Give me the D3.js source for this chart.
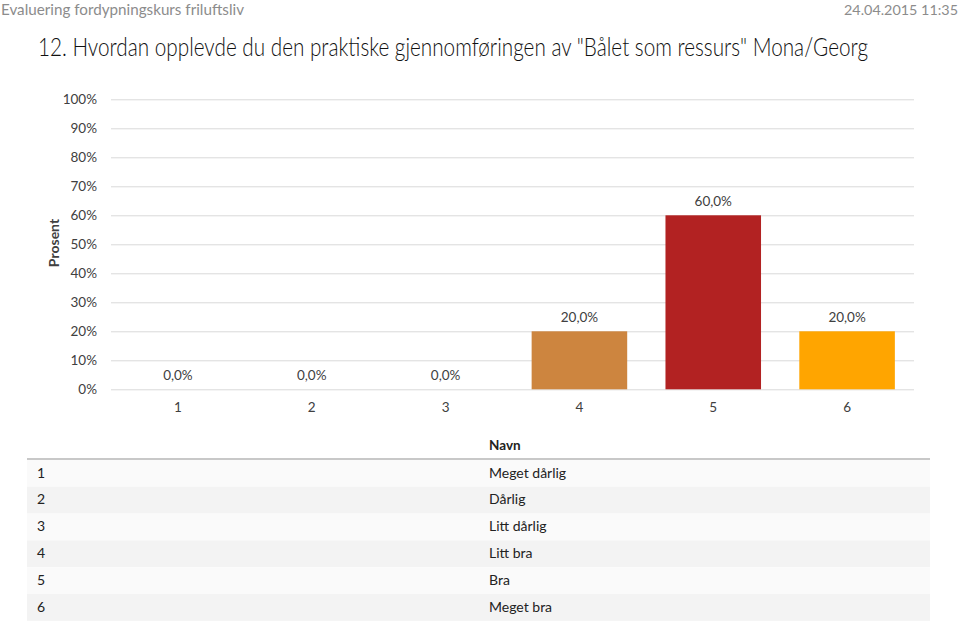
<!DOCTYPE html>
<html><head><meta charset="utf-8">
<script src="https://cdn.jsdelivr.net/npm/d3@7"></script>
<style>
body{margin:0;background:#fff;}
svg{display:block;font-family:Lato,"Open Sans",sans-serif;}
</style></head>
<body><svg id="c" width="960" height="622"></svg>
<script>
const categories = ["1","2","3","4","5","6"];
const values = [0, 0, 0, 20, 60, 20];
const barColors = ["#cd853f","#cd853f","#cd853f","#cd853f","#b22222","#ffa500"];
const yTicks = [0,10,20,30,40,50,60,70,80,90,100];
const tableNames = ["Meget dårlig","Dårlig","Litt dårlig","Litt bra","Bra","Meget bra"];
const headerLeft = "Evaluering fordypningskurs friluftsliv";
const headerRight = "24.04.2015 11:35";
const title = "12. Hvordan opplevde du den praktiske gjennomføringen av \"Bålet som ressurs\" Mona/Georg";

const svg = d3.select("#c");
const fmt = v => v.toFixed(1).replace(".", ",") + "%";
const F = "Lato,'Open Sans',sans-serif";

svg.append("text").attr("x",1).attr("y",15).attr("font-size",16).attr("fill","#8c8c8c")
  .attr("textLength",243).attr("lengthAdjust","spacingAndGlyphs").text(headerLeft);
svg.append("text").attr("x",958).attr("y",15).attr("text-anchor","end").attr("font-size",14).attr("fill","#8c8c8c")
  .attr("textLength",114).attr("lengthAdjust","spacingAndGlyphs").text(headerRight);
svg.append("text").attr("x",38).attr("y",56).attr("font-size",25).attr("font-weight",300).attr("fill","#111")
  .attr("textLength",830).attr("lengthAdjust","spacingAndGlyphs").text(title);

const x = d3.scaleBand().domain(categories).range([111,914]).paddingInner(0.286).paddingOuter(0.143);
const y = d3.scaleLinear().domain([0,100]).range([389.3,99.3]);

const yAxis = svg.append("g").attr("transform","translate(111,0)")
  .call(d3.axisLeft(y).tickValues(yTicks).tickFormat(d=>d+"%").tickSize(-803).tickPadding(14));
yAxis.select(".domain").remove();
yAxis.selectAll("line").attr("stroke","#d9d9d9").attr("stroke-width",1);
yAxis.selectAll("text").attr("font-size",13.5).attr("fill","#404040").attr("font-family",F);

const xAxis = svg.append("g").attr("transform","translate(0,389.3)")
  .call(d3.axisBottom(x).tickSize(0).tickPadding(13));
xAxis.select(".domain").remove();
xAxis.selectAll("text").attr("font-size",13.5).attr("fill","#404040").attr("font-family",F);

svg.append("text").attr("transform","translate(59,243) rotate(-90)").attr("text-anchor","middle")
  .attr("font-size",14).attr("font-weight","bold").attr("fill","#404040").text("Prosent");

svg.append("g").selectAll("rect").data(values).join("rect")
  .attr("x",(d,i)=>x(categories[i])).attr("width",x.bandwidth())
  .attr("y",d=>y(d)).attr("height",d=>y(0)-y(d)).attr("fill",(d,i)=>barColors[i]);

svg.append("g").selectAll("text").data(values).join("text")
  .attr("x",(d,i)=>x(categories[i])+x.bandwidth()/2).attr("y",d=>y(d)-9)
  .attr("text-anchor","middle").attr("font-size",13.5).attr("fill","#404040").text(d=>fmt(d));

// table
const rowTop = 460, rowH = 26.8;
svg.append("text").attr("x",489).attr("y",450).attr("font-size",13.5).attr("font-weight","bold").attr("fill","#222").text("Navn");
const rows = svg.append("g").selectAll("g").data(categories).join("g")
  .attr("transform",(d,i)=>`translate(0,${rowTop+i*rowH})`);
rows.append("rect").attr("x",27).attr("width",903).attr("height",rowH)
  .attr("fill",(d,i)=>i%2===0?"#fafafa":"#f3f3f3");
rows.append("text").attr("x",37).attr("y",17.5).attr("font-size",14).attr("fill","#222").text(d=>d);
rows.append("text").attr("x",489).attr("y",17.5).attr("font-size",14).attr("fill","#222").text((d,i)=>tableNames[i]);
svg.append("line").attr("x1",27).attr("x2",930).attr("y1",459).attr("y2",459).attr("stroke","#c8c8c8").attr("stroke-width",2);
</script></body></html>
